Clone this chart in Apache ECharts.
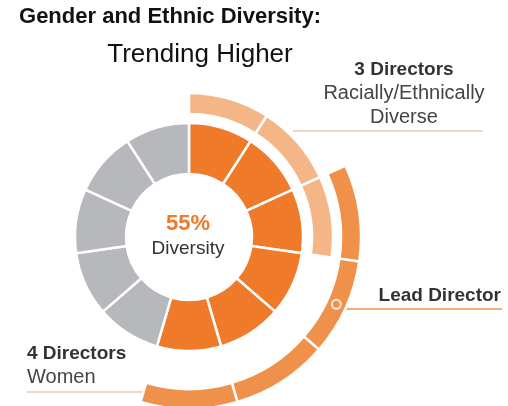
<!DOCTYPE html>
<html>
<head>
<meta charset="utf-8">
<script src="https://cdn.jsdelivr.net/npm/echarts@6/dist/echarts.min.js"></script>
<style>
    html, body { margin: 0; padding: 0; background: #fff; }
    #chart { width: 508px; height: 406px; }
</style>
</head>
<body>
<div id="chart"></div>
<script>
// board seats, clockwise from 12 o'clock
var directors = ['D1', 'D2', 'D3', 'D4', 'D5', 'D6', 'D7', 'D8', 'D9', 'D10', 'D11'];
var diverse = [1, 1, 1, 0, 0, 0, 0, 0, 0, 0, 0];
var women = [0, 0, 1, 1, 1, 1, 0, 0, 0, 0, 0];
var leadIndex = 3;
var centerValue = '55%';
var centerLabel = 'Diversity';

var orange = '#EE7A2A';
var grey = '#B7B8BC';
var light = '#F4B587';
var medium = '#F0914B';
var font = "'Liberation Sans', Arial, sans-serif";

var center = [189, 237];

function ringData(flags, color) {
    return directors.map(function (name, i) {
        return {
            name: name,
            value: 1,
            itemStyle: flags[i] ? { color: color, borderColor: '#fff', borderWidth: 2.5 }
                                : { color: 'rgba(0,0,0,0)', borderWidth: 0 }
        };
    });
}

var innerData = directors.map(function (name, i) {
    return {
        name: name,
        value: 1,
        itemStyle: { color: (diverse[i] || women[i]) ? orange : grey }
    };
});

var chart = echarts.init(document.getElementById('chart'));

var pieBase = {
    type: 'pie',
    center: center,
    startAngle: 90,
    clockwise: true,
    silent: true,
    label: { show: false },
    labelLine: { show: false },
    emphasis: { disabled: true }
};

var option = {
    animation: false,
    backgroundColor: '#fff',
    polar: { center: center, radius: 172 },
    angleAxis: { type: 'value', min: 0, max: directors.length, startAngle: 90, clockwise: true, show: false },
    radiusAxis: { type: 'value', min: 0, max: 172, show: false },
    series: [
        Object.assign({}, pieBase, {
            name: 'board',
            radius: [63, 114],
            itemStyle: { borderColor: '#fff', borderWidth: 2.5 },
            data: innerData
        }),
        Object.assign({}, pieBase, {
            name: 'diverse',
            radius: [123, 144],
            data: ringData(diverse, light)
        }),
        Object.assign({}, pieBase, {
            name: 'women',
            radius: [152, 172],
            data: ringData(women, medium)
        }),
        {
            name: 'lead',
            type: 'scatter',
            coordinateSystem: 'polar',
            silent: true,
            symbolSize: 9,
            itemStyle: { color: medium, borderColor: '#fff', borderWidth: 2 },
            data: [[162, leadIndex + 0.5]],
            z: 5
        }
    ],
    graphic: [
        /* Title. */
        { type: 'text', x: 170, y: 17, style: { text: 'Gender and Ethnic Diversity:', font: 'bold 22px ' + font, fill: '#111', textAlign: 'center', textVerticalAlign: 'middle' } },
        { type: 'text', x: 200, y: 55, style: { text: 'Trending Higher', font: '26px ' + font, fill: '#111', textAlign: 'center', textVerticalAlign: 'middle' } },

        /* Center. */
        { type: 'text', x: 188, y: 224, style: { text: centerValue, font: 'bold 22px ' + font, fill: orange, textAlign: 'center', textVerticalAlign: 'middle' } },
        { type: 'text', x: 188, y: 249, style: { text: centerLabel, font: '19px ' + font, fill: '#333', textAlign: 'center', textVerticalAlign: 'middle' } },

        /* Callouts. */
        { type: 'text', x: 404, y: 70, style: { text: '3 Directors', font: 'bold 19px ' + font, fill: '#333', textAlign: 'center', textVerticalAlign: 'middle' } },
        { type: 'text', x: 404, y: 93, style: { text: 'Racially/Ethnically', font: '20px ' + font, fill: '#444', textAlign: 'center', textVerticalAlign: 'middle' } },
        { type: 'text', x: 404, y: 117, style: { text: 'Diverse', font: '20px ' + font, fill: '#444', textAlign: 'center', textVerticalAlign: 'middle' } },
        { type: 'line', shape: { x1: 293, y1: 131, x2: 483, y2: 131 }, style: { stroke: '#F6C6A2', lineWidth: 1.5 } },

        { type: 'text', x: 501, y: 296, style: { text: 'Lead Director', font: 'bold 19px ' + font, fill: '#333', textAlign: 'right', textVerticalAlign: 'middle' } },
        { type: 'line', shape: { x1: 340, y1: 309, x2: 502, y2: 309 }, style: { stroke: medium, lineWidth: 1.5 } },

        { type: 'text', x: 27, y: 354, style: { text: '4 Directors', font: 'bold 19px ' + font, fill: '#333', textAlign: 'left', textVerticalAlign: 'middle' } },
        { type: 'text', x: 27, y: 377, style: { text: 'Women', font: '20px ' + font, fill: '#444', textAlign: 'left', textVerticalAlign: 'middle' } },
        { type: 'line', shape: { x1: 27, y1: 392, x2: 143, y2: 392 }, style: { stroke: '#F6C6A2', lineWidth: 1.5 } }
    ]
};
chart.setOption(option);
</script>
</body>
</html>
